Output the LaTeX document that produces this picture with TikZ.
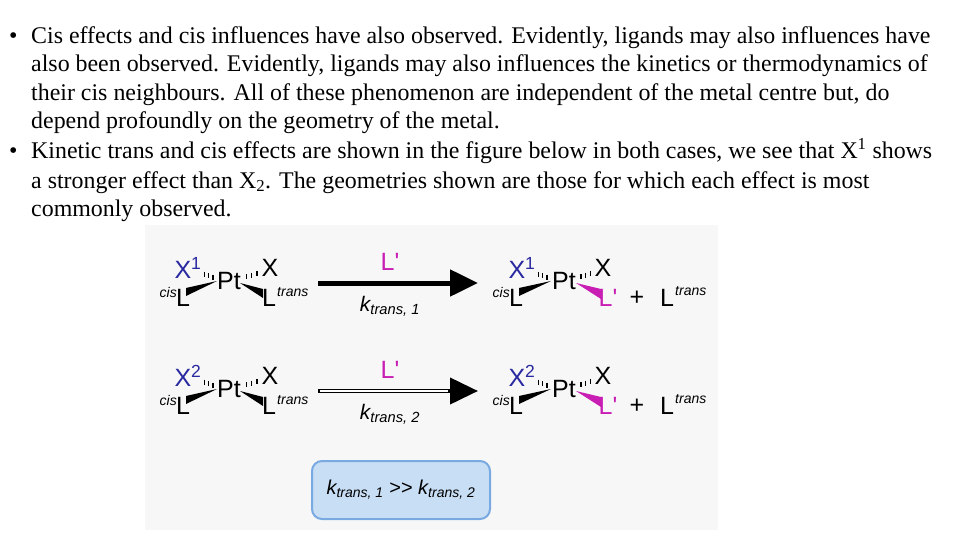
\documentclass[tikz,border=0pt]{standalone}
\usepackage{fontspec}
\setmainfont{Liberation Serif}
\newfontfamily\chemf{Liberation Sans}
\usetikzlibrary{arrows.meta,calc}
\definecolor{xblue}{RGB}{40,40,160}
\definecolor{lmag}{RGB}{200,30,180}
\definecolor{boxfill}{RGB}{200,222,245}
\definecolor{boxline}{RGB}{120,170,225}
\begin{document}
\begin{tikzpicture}[x=1pt,y=-1pt,
  txt/.style={anchor=base west,inner sep=0pt,font=\fontsize{23.9}{26}\selectfont},
  bul/.style={anchor=base west,inner sep=0pt,font=\fontsize{24}{26}\selectfont},
  ch/.style={inner sep=0pt,font=\chemf\fontsize{25}{28}\selectfont},
  sm/.style={inner sep=0pt,font=\chemf\itshape\fontsize{14}{16}\selectfont},
  wedge/.style={fill=black},
  rxn/.style={line width=5pt,-{Triangle[length=28pt,width=26pt]}}]
\useasboundingbox (0,0) rectangle (960,540);
\fill[white] (0,0) rectangle (960,540);
% text
\node[bul] (b1) at (9,44) {•};
\node[txt] (t1) at (31,44) {Cis effects and cis influences have also observed. Evidently, ligands may also influences have};
\node[txt] (t2) at (31,72) {also been observed. Evidently, ligands may also influences the kinetics or thermodynamics of};
\node[txt] (t3) at (31,101) {their cis neighbours. All of these phenomenon are independent of the metal centre but, do};
\node[txt] (t4) at (31,129) {depend profoundly on the geometry of the metal.};
\node[bul] (b2) at (9,159) {•};
\node[txt] (t5) at (31,159) {Kinetic trans and cis effects are shown in the figure below in both cases, we see that X\textsuperscript{1} shows};
\node[txt] (t6) at (31,188) {a stronger effect than X\textsubscript{2}. The geometries shown are those for which each effect is most};
\node[txt] (t7) at (31,216) {commonly observed.};
% figure background
\fill[black!3] (145,225) rectangle (718,530);
\foreach \dy/\n in {0/1,108/2}{
\begin{scope}[yshift=-\dy]
 % reactant
 \node[ch,text=xblue] (xa\n) at (188,268) {X\textsuperscript{\n}};
 \node[ch] (pa\n) at (229,281) {Pt};
 \node[ch] (xb\n) at (270,268) {X};
 \node[ch] (la\n) at (183,298) {L};
 \node[sm,anchor=east] (ca\n) at (177,292) {cis};
 \node[ch] (lb\n) at (269,298) {L};
 \node[sm,anchor=west] (tr\n) at (277,292) {trans};
 \fill[wedge] (186,296) -- (217,281) -- (186,288) -- cycle;
 \fill[wedge] (240,283) -- (263,298) -- (263,289) -- cycle;
 \foreach \t in {0.25,0.5,0.75}{\draw[line width=1.5pt] ($(200,273)!\t!(217,279)$) ++(0,-3) -- ++(0,5);}
 \foreach \t in {0.25,0.5,0.75}{\draw[line width=1.5pt] ($(241,279)!\t!(262,272)$) ++(0,-3) -- ++(0,5);}
 % arrow
 \coordinate (as\n) at (318,283);
 \coordinate (ae\n) at (478,283);
 \node[ch,text=lmag] (lp\n) at (390,262) {L'};
 \node[ch,font=\chemf\itshape\fontsize{21}{24}\selectfont] (k\n) at (390,306) {k\textsubscript{trans, \n}};
 % product
 \node[ch,text=xblue] (xc\n) at (522,268) {X\textsuperscript{\n}};
 \node[ch] (pc\n) at (564,281) {Pt};
 \node[ch] (xd\n) at (603,268) {X};
 \node[ch] (lc\n) at (516,298) {L};
 \node[sm,anchor=east] (cc\n) at (510,292) {cis};
 \node[ch,text=lmag] (ld\n) at (608,298) {L'};
 \fill[wedge] (519,296) -- (551,281) -- (519,288) -- cycle;
 \fill[lmag] (576,283) -- (601,299) -- (601,289) -- cycle;
 \foreach \t in {0.25,0.5,0.75}{\draw[line width=1.5pt] ($(534,273)!\t!(551,279)$) ++(0,-3) -- ++(0,5);}
 \foreach \t in {0.25,0.5,0.75}{\draw[line width=1.5pt] ($(576,279)!\t!(595,272)$) ++(0,-3) -- ++(0,5);}
 \node[ch] (pl\n) at (637,298) {+};
 \node[ch] (lt\n) at (667,298) {L};
 \node[sm,anchor=west] (lts\n) at (675,291) {trans};
\end{scope}}
\draw[rxn] (as1) -- (ae1);
\draw[line width=4pt,-{Triangle[length=28pt,width=26pt]}] (as2) -- (ae2);
\draw[white,line width=1.2pt] (320,391) -- (448,391);
% box
\node[draw=boxline,fill=boxfill,line width=2pt,rounded corners=10pt,minimum width=178pt,minimum height=58pt,font=\chemf\itshape\fontsize{20}{24}\selectfont] (kbox) at (401,490) {k\textsubscript{trans, 1} \upshape>> \itshape k\textsubscript{trans, 2}};
\end{tikzpicture}
\end{document}
